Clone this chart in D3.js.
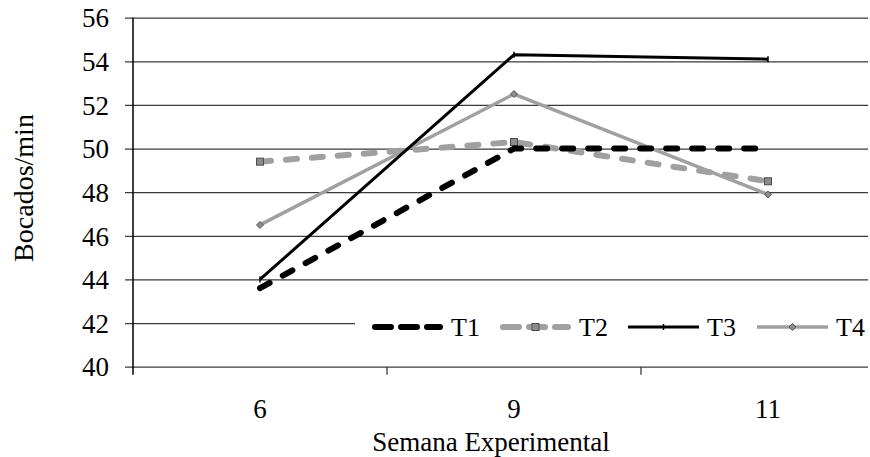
<!DOCTYPE html>
<html>
<head>
<meta charset="utf-8">
<script src="https://cdn.jsdelivr.net/npm/d3@7"></script>
<style>
  body { margin: 0; background: #fff; }
  svg { display: block; }
</style>
</head>
<body>
<svg id="chart" width="870" height="457"></svg>
<script>
const categories = ["6", "9", "11"];
const seriesNames = ["T1", "T2", "T3", "T4"];
const T1 = [43.6, 50.0, 50.0];
const T2 = [49.4, 50.3, 48.5];
const T3 = [44.0, 54.3, 54.1];
const T4 = [46.5, 52.5, 47.9];
const yTicks = [40, 42, 44, 46, 48, 50, 52, 54, 56];
const xTitle = "Semana Experimental";
const yTitle = "Bocados/min";

const FONT = "'Liberation Serif', 'Times New Roman', Times, serif";
const svg = d3.select("#chart");
const pLeft = 133, pRight = 895, pTop = 17.7, pBottom = 366.7, gridRight = 868;

const x = d3.scaleBand().domain(categories).range([pLeft, pRight]).padding(0);
const y = d3.scaleLinear().domain([40, 56]).range([pBottom, pTop]);

// gridlines + y ticks
const yAxis = d3.axisLeft(y).tickValues(yTicks).tickSize(-(gridRight - pLeft)).tickSizeOuter(0).tickPadding(0);
const gy = svg.append("g").attr("transform", `translate(${pLeft},0)`).call(yAxis);
gy.attr("font-family", FONT).attr("font-size", 27);
gy.select(".domain").remove();
gy.selectAll(".tick line").attr("x1", -8).attr("stroke", "#3a3a3a").attr("stroke-width", 1.3);
gy.selectAll(".tick text").attr("x", -24).attr("dy", "0.34em").attr("fill", "#000");

// x axis
const xAxis = d3.axisBottom(x).tickSize(0).tickPadding(0);
const gx = svg.append("g").attr("transform", `translate(0,${pBottom})`).call(xAxis);
gx.attr("font-family", FONT).attr("font-size", 27);
gx.select(".domain").remove();
gx.selectAll(".tick text").attr("y", 51).attr("dy", 0).attr("fill", "#000");
// category boundary ticks
svg.append("g").selectAll("line").data(categories.slice(1)).join("line")
  .attr("x1", d => x(d)).attr("x2", d => x(d))
  .attr("y1", pBottom).attr("y2", pBottom + 8)
  .attr("stroke", "#3a3a3a").attr("stroke-width", 1.3);

// y axis line
svg.append("line").attr("x1", pLeft).attr("x2", pLeft).attr("y1", pTop).attr("y2", pBottom + 8)
  .attr("stroke", "#000").attr("stroke-width", 1.5);

// titles
svg.append("text").attr("x", 491).attr("y", 451).attr("text-anchor", "middle")
  .attr("font-family", FONT).attr("font-size", 27).text(xTitle);
svg.append("text").attr("transform", "translate(33,188) rotate(-90)").attr("text-anchor", "middle")
  .attr("font-family", FONT).attr("font-size", 28).text(yTitle);

const styles = {
  T1: { color: "#000", width: 6, dash: "11,15", cap: "round", marker: "none" },
  T2: { color: "#a0a0a0", width: 6, dash: "11,15", cap: "round", marker: "square" },
  T3: { color: "#000", width: 3, dash: null, cap: "butt", marker: "tick" },
  T4: { color: "#a0a0a0", width: 3.5, dash: null, cap: "butt", marker: "diamond" }
};
const dataMap = { T1, T2, T3, T4 };
const cx = d => x(d) + x.bandwidth() / 2;

const line = d3.line().x((d, i) => cx(categories[i])).y(d => y(d));

function drawMarker(g, type, px, py) {
  if (type === "square") {
    g.append("rect").attr("x", px - 3.5).attr("y", py - 3.5).attr("width", 7).attr("height", 7)
      .attr("fill", "#8c8c8c").attr("stroke", "#4a4a4a").attr("stroke-width", 1);
  } else if (type === "diamond") {
    g.append("path").attr("d", `M${px},${py - 3.5}L${px + 3.5},${py}L${px},${py + 3.5}L${px - 3.5},${py}Z`)
      .attr("fill", "#8c8c8c").attr("stroke", "#555").attr("stroke-width", 1);
  } else if (type === "tick") {
    g.append("line").attr("x1", px).attr("x2", px).attr("y1", py - 3).attr("y2", py + 3)
      .attr("stroke", "#000").attr("stroke-width", 1.5);
  }
}

const order = ["T2", "T4", "T1", "T3"];
order.forEach(name => {
  const s = styles[name];
  const g = svg.append("g");
  g.append("path").datum(dataMap[name]).attr("d", line)
    .attr("fill", "none").attr("stroke", s.color).attr("stroke-width", s.width)
    .attr("stroke-dasharray", s.dash).attr("stroke-linecap", s.cap).attr("stroke-linejoin", "round");
  dataMap[name].forEach((v, i) => drawMarker(g, s.marker, cx(categories[i]), y(v)));
});

// legend
const leg = svg.append("g");
leg.append("rect").attr("x", 355).attr("y", 311).attr("width", 515).attr("height", 32).attr("fill", "#fff");
const legX = [372, 500, 628, 757];
const legY = 327;
seriesNames.forEach((name, i) => {
  const s = styles[name];
  const x0 = legX[i], x1 = x0 + 71;
  const g = leg.append("g");
  g.append("line").attr("x1", x0 + (s.dash ? 3 : 0)).attr("x2", x1 - (s.dash ? 3 : 0)).attr("y1", legY).attr("y2", legY)
    .attr("stroke", s.color).attr("stroke-width", s.width)
    .attr("stroke-dasharray", s.dash ? "16,10" : null).attr("stroke-linecap", s.dash ? "round" : "butt");
  drawMarker(g, s.marker, (x0 + x1) / 2, legY);
  g.append("text").attr("x", x1 + 8).attr("y", legY + 9)
    .attr("font-family", FONT).attr("font-size", 26).attr("fill", "#000").text(name);
});
</script>
</body>
</html>
